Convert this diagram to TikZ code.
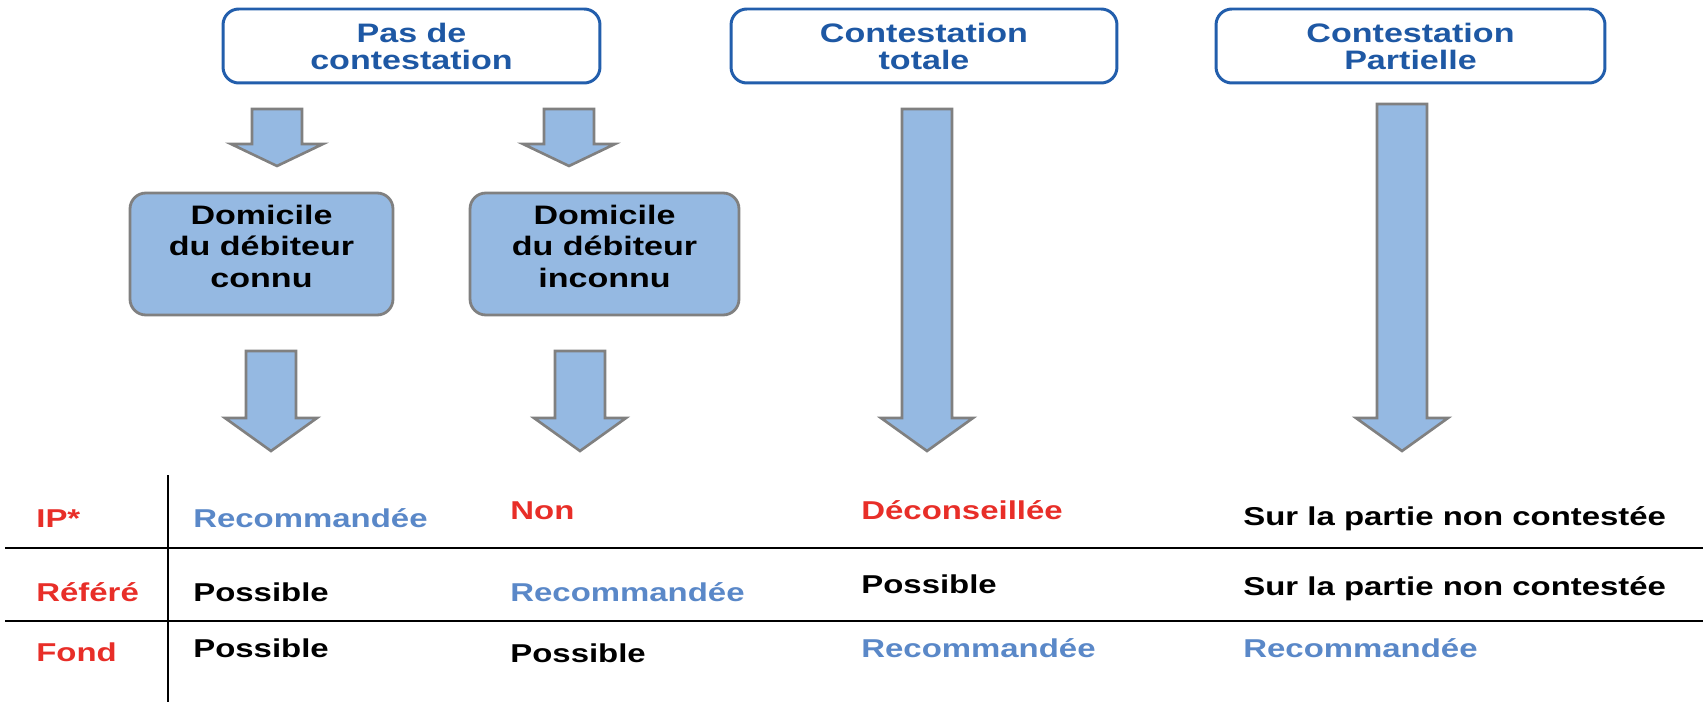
\documentclass[tikz,border=0pt]{standalone}
\usepackage{fontspec}
\setmainfont{Liberation Sans}[FakeStretch=1.275]
\usetikzlibrary{calc}

\definecolor{boxblue}{RGB}{149,185,226}
\definecolor{edgeblue}{RGB}{34,94,172}
\definecolor{headtext}{RGB}{30,88,164}
\definecolor{recblue}{RGB}{90,136,200}
\definecolor{nored}{RGB}{232,46,40}
\definecolor{arrgray}{RGB}{128,128,128}

\newcommand{\blockarrow}[3]{% start, tip, head length
  \draw[blockarr] ($(#1)+(-25,0)$) -- ($(#2)+(-25,-#3)$) -- ($(#2)+(-46,-#3)$)
    -- (#2) -- ($(#2)+(46,-#3)$) -- ($(#2)+(25,-#3)$) -- ($(#1)+(25,0)$) -- cycle;}

\tikzset{
  headbox/.style={draw=edgeblue, line width=1.7pt, rounded corners=9pt, fill=white,
    minimum height=1.48cm, align=center, text=headtext,
    font=\fontsize{15.2}{15.4}\selectfont\bfseries},
  casebox/.style={draw=arrgray, line width=1.6pt, rounded corners=9pt, fill=boxblue,
    minimum height=2.44cm, align=center, text depth=9pt,
    font=\fontsize{15.2}{18}\selectfont\bfseries},
  blockarr/.style={draw=arrgray, line width=1.5pt, fill=boxblue},
  cell/.style={anchor=base west, inner sep=0pt, font=\fontsize{14.7}{16}\selectfont\bfseries},
  rule/.style={line width=1.3pt}
}

\begin{document}
\begin{tikzpicture}[x=0.02cm, y=-0.02cm]
        \useasboundingbox (0,0) rectangle (1703,702);

        % en-tetes
        \node[headbox, minimum width=7.54cm] (pas)  at (411.5,46)  {Pas de\\contestation};
        \node[headbox, minimum width=7.72cm] (tot)  at (924,46)    {Contestation\\totale};
        \node[headbox, minimum width=7.78cm] (part) at (1410.5,46) {Contestation\\Partielle};

        % domicile
        \node[casebox, minimum width=5.26cm] (connu)   at (261.5,254) {Domicile\\du débiteur\\connu};
        \node[casebox, minimum width=5.38cm] (inconnu) at (604.5,254) {Domicile\\du débiteur\\inconnu};

        % fleches
        \coordinate (a1s) at (277,109);  \coordinate (a1e) at (277,166);
        \coordinate (a2s) at (569,109);  \coordinate (a2e) at (569,166);
        \coordinate (a3s) at (271,351);  \coordinate (a3e) at (271,451);
        \coordinate (a4s) at (580,351);  \coordinate (a4e) at (580,451);
        \coordinate (a5s) at (927,109);  \coordinate (a5e) at (927,451);
        \coordinate (a6s) at (1402,104); \coordinate (a6e) at (1402,451);
        \blockarrow{a1s}{a1e}{22}
        \blockarrow{a2s}{a2e}{22}
        \blockarrow{a3s}{a3e}{33}
        \blockarrow{a4s}{a4e}{33}
        \blockarrow{a5s}{a5e}{33}
        \blockarrow{a6s}{a6e}{33}

        % tableau
        \coordinate (vtop) at (168,475);  \coordinate (vbot) at (168,702);
        \coordinate (l1a) at (5,548);     \coordinate (l1b) at (1703,548);
        \coordinate (l2a) at (5,621);     \coordinate (l2b) at (1703,621);
        \draw[rule] (vtop) -- (vbot);
        \draw[rule] (l1a) -- (l1b);
        \draw[rule] (l2a) -- (l2b);

        \node[cell, text=nored]   (ip)    at (36,527)   {IP*};
        \node[cell, text=recblue] (ip1)   at (193,527)  {Recommandée};
        \node[cell, text=nored]   (ip2)   at (510,519)  {Non};
        \node[cell, text=nored]   (ip3)   at (861,519)  {Déconseillée};
        \node[cell]               (ip4)   at (1243,525) {Sur la partie non contestée};

        \node[cell, text=nored]   (ref)   at (36,601)   {Référé};
        \node[cell]               (ref1)  at (193,601)  {Possible};
        \node[cell, text=recblue] (ref2)  at (510,601)  {Recommandée};
        \node[cell]               (ref3)  at (861,593)  {Possible};
        \node[cell]               (ref4)  at (1243,595) {Sur la partie non contestée};

        \node[cell, text=nored]   (fond)  at (36,661)   {Fond};
        \node[cell]               (fond1) at (193,657)  {Possible};
        \node[cell]               (fond2) at (510,662)  {Possible};
        \node[cell, text=recblue] (fond3) at (861,657)  {Recommandée};
        \node[cell, text=recblue] (fond4) at (1243,657) {Recommandée};
    \end{tikzpicture}
\end{document}
